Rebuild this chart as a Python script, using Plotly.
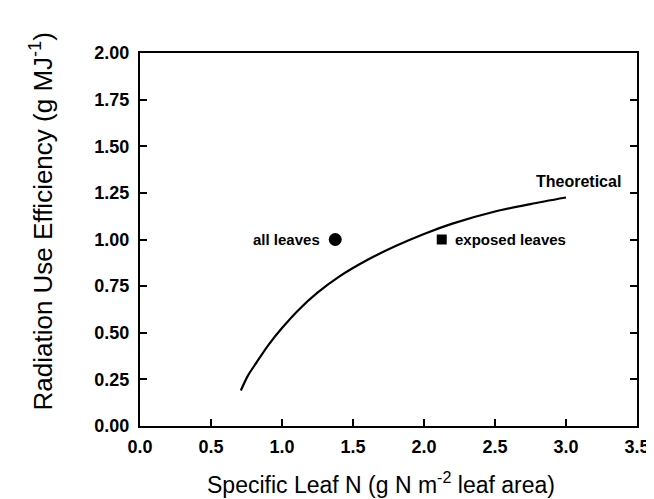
import plotly.graph_objects as go

# Theoretical curve
theo_x = [0.71, 0.76, 0.82, 0.90, 1.00, 1.12, 1.25, 1.40, 1.60, 1.80, 2.00, 2.20, 2.50, 2.75, 3.00]
theo_y = [0.19, 0.27, 0.34, 0.43, 0.525, 0.625, 0.715, 0.80, 0.89, 0.965, 1.03, 1.085, 1.15, 1.19, 1.225]

all_leaves_x = [1.375]
all_leaves_y = [1.0]
exposed_x = [2.125]
exposed_y = [1.0]

x_ticks = [0.0, 0.5, 1.0, 1.5, 2.0, 2.5, 3.0, 3.5]
y_ticks = [0.00, 0.25, 0.50, 0.75, 1.00, 1.25, 1.50, 1.75, 2.00]

FONT = "Liberation Sans"

fig = go.Figure()
fig.add_trace(go.Scatter(x=theo_x, y=theo_y, mode="lines",
                         line=dict(color="black", width=2.2, shape="spline", smoothing=0.8),
                         showlegend=False, hoverinfo="skip"))
fig.add_trace(go.Scatter(x=all_leaves_x, y=all_leaves_y, mode="markers",
                         marker=dict(symbol="circle", size=13, color="black"),
                         showlegend=False))
fig.add_trace(go.Scatter(x=exposed_x, y=exposed_y, mode="markers",
                         marker=dict(symbol="square", size=10, color="black"),
                         showlegend=False))

fig.add_annotation(x=all_leaves_x[0], y=all_leaves_y[0], text="all leaves",
                   showarrow=False, xanchor="right", xshift=-13,
                   font=dict(family=FONT, size=15, color="black", weight="bold"))
fig.add_annotation(x=exposed_x[0], y=exposed_y[0], text="exposed leaves",
                   showarrow=False, xanchor="left", xshift=11,
                   font=dict(family=FONT, size=15, color="black", weight="bold"))
fig.add_annotation(x=3.09, y=1.31, text="Theoretical",
                   showarrow=False, xanchor="center",
                   font=dict(family=FONT, size=16, color="black", weight="bold"))

fig.add_annotation(xref="paper", yref="paper", x=0.5, y=0, yshift=-57, xshift=-8,
                   text="Specific Leaf N (g N m<sup>-2</sup> leaf area)",
                   showarrow=False, xanchor="center", yanchor="middle",
                   font=dict(family=FONT, size=23, color="black"))
fig.add_annotation(xref="paper", yref="paper", x=0, y=0.5, xshift=-98, yshift=18,
                   text="Radiation Use Efficiency (g MJ<sup>-1</sup>)",
                   showarrow=False, textangle=-90, xanchor="center", yanchor="middle",
                   font=dict(family=FONT, size=26, color="black"))

axis_common = dict(showgrid=False, zeroline=False, showline=True, linecolor="black",
                   linewidth=2, ticks="inside", ticklen=7, tickwidth=1.5, tickcolor="black",
                   tickfont=dict(family=FONT, size=18, color="black", weight="bold"))

fig.update_xaxes(range=[0, 3.5], tickvals=x_ticks, ticklabelstandoff=3,
                 ticktext=[f"{v:.1f}" for v in x_ticks], mirror=True, **axis_common)
fig.update_yaxes(range=[0, 2.0], tickvals=y_ticks, ticklabelstandoff=5,
                 ticktext=[f"{v:.2f}" for v in y_ticks], mirror="ticks", **axis_common)

fig.update_layout(width=654, height=499, plot_bgcolor="white", paper_bgcolor="white",
                  margin=dict(l=132, r=13, t=45, b=81), showlegend=False)

fig.write_html("out.html")
